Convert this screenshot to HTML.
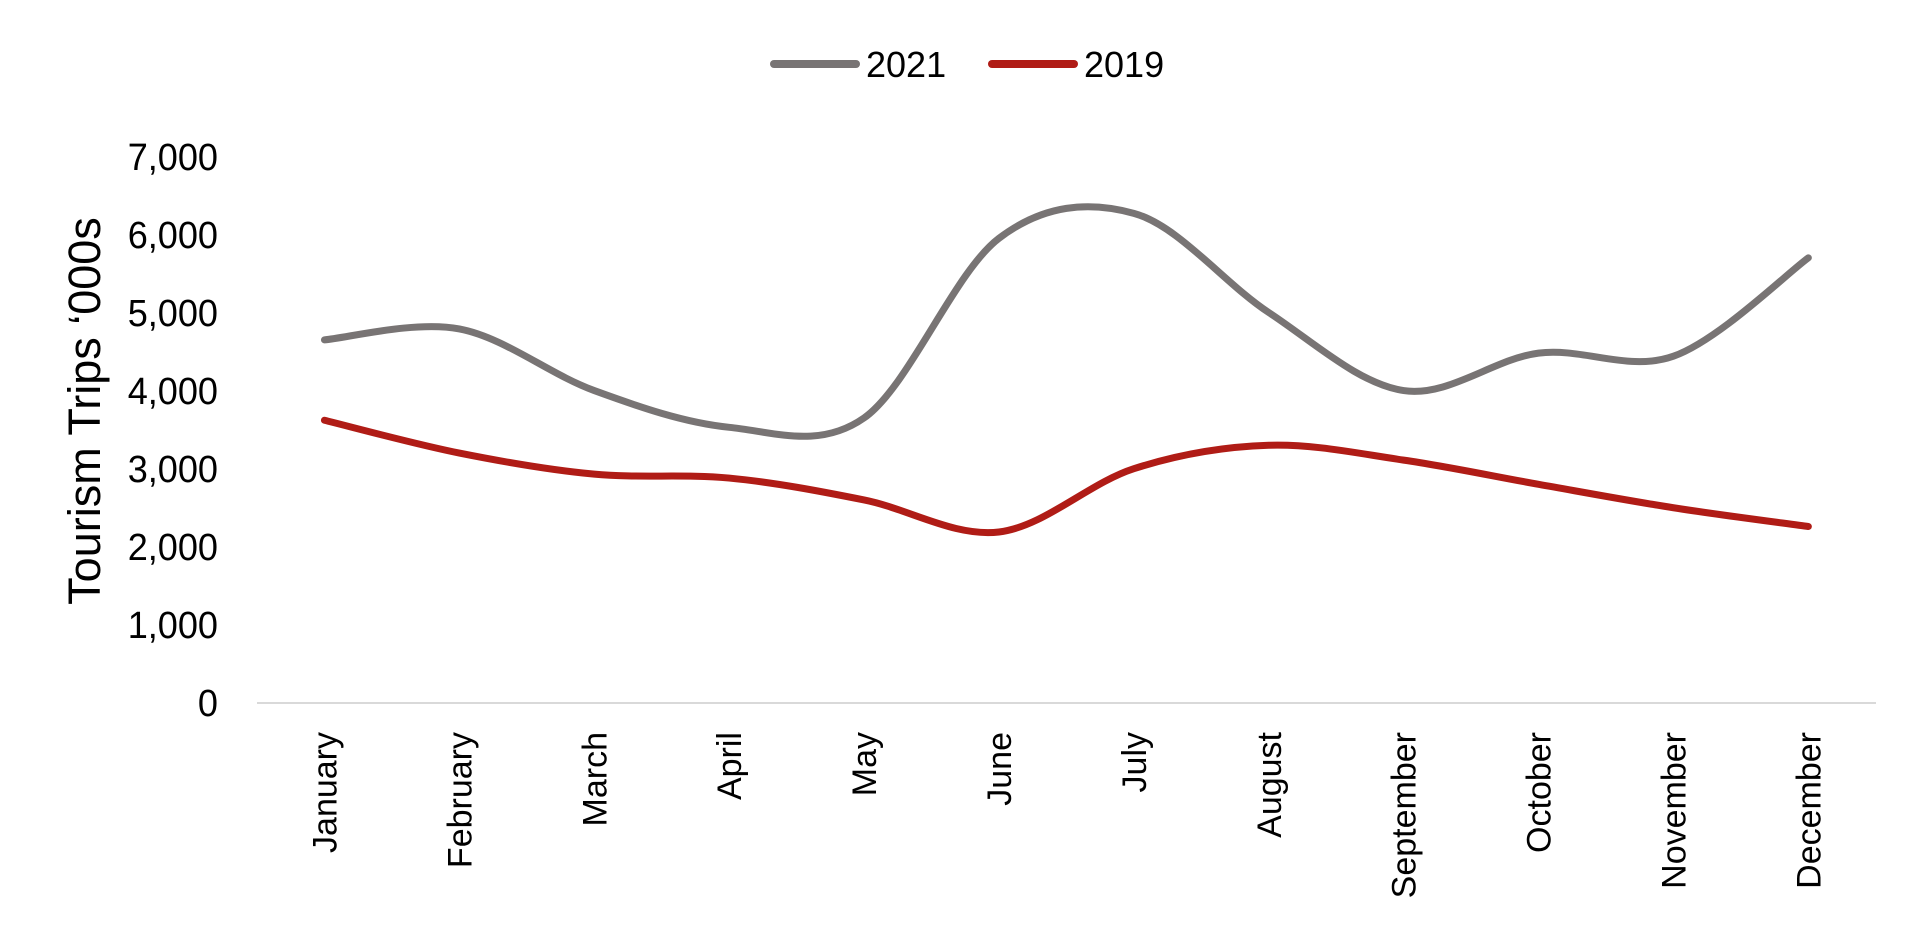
<!DOCTYPE html>
<html><head><meta charset="utf-8"><style>
html,body{margin:0;padding:0;background:#fff;}
svg{display:block;}
text{font-family:"Liberation Sans Narrow","Liberation Sans",sans-serif;fill:#000;}
</style></head><body>
<svg id="s" width="1923" height="939" viewBox="0 0 1923 939">
<line x1="257" y1="703" x2="1876" y2="703" stroke="#d9d9d9" stroke-width="2"/>
<g font-size="38" text-anchor="end">
<text transform="translate(218,716) scale(0.95,1)">0</text>
<text transform="translate(218,638) scale(0.95,1)">1,000</text>
<text transform="translate(218,560) scale(0.95,1)">2,000</text>
<text transform="translate(218,482) scale(0.95,1)">3,000</text>
<text transform="translate(218,404) scale(0.95,1)">4,000</text>
<text transform="translate(218,326) scale(0.95,1)">5,000</text>
<text transform="translate(218,248) scale(0.95,1)">6,000</text>
<text transform="translate(218,170) scale(0.95,1)">7,000</text>
</g>
<text transform="translate(100,411) rotate(-90)" font-size="45" text-anchor="middle" style="font-family:'Liberation Sans',sans-serif">Tourism Trips ‘000s</text>
<g id="months" font-size="34" text-anchor="end"></g>
<line x1="774" y1="64" x2="856" y2="64" stroke="#787474" stroke-width="8" stroke-linecap="round"/>
<text x="866" y="77" font-size="36">2021</text>
<line x1="992" y1="64" x2="1074" y2="64" stroke="#b01c16" stroke-width="8" stroke-linecap="round"/>
<text x="1084" y="77" font-size="36">2019</text>
<path id="p1" fill="none" stroke="#787474" stroke-width="7" stroke-linecap="round"/>
<path id="p2" fill="none" stroke="#b01c16" stroke-width="7" stroke-linecap="round"/>
</svg>
<script>
var m=["January","February","March","April","May","June","July","August","September","October","November","December"];
var X=function(i){return 257+134.9*(i+0.5);};
var Y=function(v){return 703-v*0.0781;};
var g=document.getElementById("months"),h="";
m.forEach(function(n,i){h+='<text transform="translate('+(X(i)+12)+',732) rotate(-90)">'+n+'</text>';});
g.innerHTML=h;
function path(d){var p=d.map(function(v,i){return [X(i),Y(v)];});var s="M"+p[0][0]+","+p[0][1];
for(var i=0;i<p.length-1;i++){var a=p[i-1]||p[i],b=p[i],c=p[i+1],e=p[i+2]||c;
var t=0.5/3;s+=" C"+(b[0]+(c[0]-a[0])*t)+","+(b[1]+(c[1]-a[1])*t)+" "+(c[0]-(e[0]-b[0])*t)+","+(c[1]-(e[1]-b[1])*t)+" "+c[0]+","+c[1];}return s;}
document.getElementById("p1").setAttribute("d",path([4650,4790,4000,3530,3650,5950,6270,5000,4000,4480,4440,5700]));
document.getElementById("p2").setAttribute("d",path([3620,3200,2930,2880,2600,2190,3000,3300,3110,2800,2500,2260]));
</script>
</body></html>
